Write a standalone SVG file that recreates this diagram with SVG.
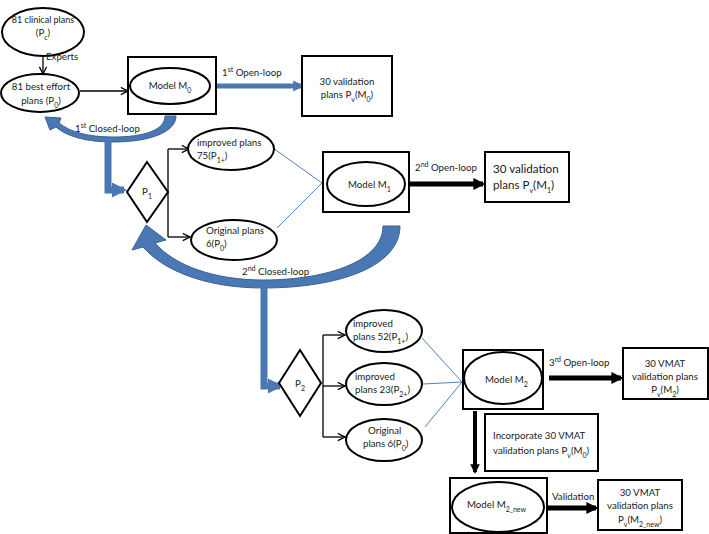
<svg xmlns="http://www.w3.org/2000/svg" width="709" height="534" viewBox="0 0 709 534">
<defs>
<style>
text{font-family:Lato,"Liberation Sans",sans-serif;font-size:9.7px;fill:#1a1a1a}
.c{text-anchor:middle}
.big{font-size:11.6px}
.sh{fill:#fff;stroke:#000;stroke-width:2}
.thin{fill:none;stroke:#000;stroke-width:1.3}
.bl{fill:none;stroke:#4f81bd;stroke-width:1}
.band{fill:#4a78b5;stroke:#3a6094;stroke-width:1}
.sub{font-size:7px;baseline-shift:sub}
.sup{font-size:7px;baseline-shift:super}
</style>
<marker id="open" viewBox="0 0 10 10" refX="9" refY="5" markerWidth="9" markerHeight="9" markerUnits="userSpaceOnUse" orient="auto">
<path d="M1,1 L9,5 L1,9" fill="none" stroke="#000" stroke-width="1.4"/>
</marker>
<marker id="blk" viewBox="0 0 10 10" refX="8" refY="5" markerWidth="2.4" markerHeight="2.4" orient="auto">
<path d="M0,0 L10,5 L0,10 Z" fill="#000"/>
</marker>
<marker id="blu" viewBox="0 0 10 10" refX="8" refY="5" markerWidth="2.2" markerHeight="2.4" orient="auto">
<path d="M0,0 L10,5 L0,10 Z" fill="#4a78b5"/>
</marker>
</defs>

<g id="connectors">
<line class="thin" x1="43" y1="57" x2="43" y2="74" marker-end="url(#open)"/>
<line class="thin" x1="80" y1="91" x2="128" y2="91" marker-end="url(#open)"/>
<line x1="217" y1="86" x2="302" y2="86" stroke="#4a78b5" stroke-width="5" marker-end="url(#blu)"/>
<path class="band" d="M165,116 L176,116 C176,132 150,142 113,142 C86,142 66,136 56,127 L50,130 L45,117 L61,118 L59,123 C70,132 88,137 113,137 C145,137 165,130 165,116 Z"/>
<path d="M108,141 L108,190 L124,190" fill="none" stroke="#4a78b5" stroke-width="7" marker-end="url(#blu)"/>
<polyline class="thin" points="168,149 168,237"/>
<line class="thin" x1="168" y1="149" x2="189" y2="149" marker-end="url(#open)"/>
<line class="thin" x1="168" y1="237" x2="190" y2="237" marker-end="url(#open)"/>
<line class="bl" x1="273" y1="148" x2="322" y2="183"/>
<line class="bl" x1="277" y1="228" x2="322" y2="183"/>
<line x1="409" y1="184" x2="483" y2="184" stroke="#000" stroke-width="5" marker-end="url(#blk)"/>
<path class="band" d="M383,226 L400,226 C400,266 340,288 263,288 C205,288 163,270 143,247 L132,250 L146,225 L166,240 L155,243 C175,266 215,280 263,280 C330,280 383,260 383,226 Z"/>
<path d="M264,284 L264,386 L280,386" fill="none" stroke="#4a78b5" stroke-width="7" marker-end="url(#blu)"/>
<polyline class="thin" points="323,335 323,437"/>
<line class="thin" x1="323" y1="335" x2="345" y2="335" marker-end="url(#open)"/>
<line class="thin" x1="323" y1="386" x2="345" y2="386" marker-end="url(#open)"/>
<line class="thin" x1="323" y1="437" x2="345" y2="437" marker-end="url(#open)"/>
<line class="bl" x1="422" y1="338" x2="462" y2="382"/>
<line class="bl" x1="423" y1="384" x2="462" y2="382"/>
<line class="bl" x1="425" y1="427" x2="462" y2="382"/>
<line x1="549" y1="378" x2="621" y2="378" stroke="#000" stroke-width="5" marker-end="url(#blk)"/>
<line x1="475" y1="411" x2="475" y2="472" stroke="#000" stroke-width="4" marker-end="url(#blk)"/>
<line x1="547" y1="508" x2="596" y2="508" stroke="#000" stroke-width="5" marker-end="url(#blk)"/>
</g>

<g id="clinical">
<ellipse class="sh" cx="43" cy="32" rx="41" ry="24"/>
<text class="c" x="43" y="23" style="font-size:9px">81 clinical plans</text>
<text class="c" x="43" y="36">(P<tspan class="sub">c</tspan>)</text>
</g>
<text x="46" y="60">Experts</text>
<g id="besteffort">
<ellipse class="sh" cx="40" cy="93" rx="39" ry="19"/>
<text class="c" x="41" y="90">81 best effort</text>
<text class="c" x="41" y="104">plans (P<tspan class="sub">0</tspan>)</text>
</g>
<g id="m0">
<rect class="sh" x="128" y="57" width="88" height="57"/>
<ellipse class="sh" cx="170" cy="86" rx="40" ry="18"/>
<text class="c" x="170" y="89">Model M<tspan class="sub">0</tspan></text>
</g>
<text x="222" y="76">1<tspan class="sup">st</tspan> Open-loop</text>
<g id="val0">
<rect class="sh" x="302" y="56" width="90" height="60"/>
<text class="c" x="347" y="85">30 validation</text>
<text class="c" x="347" y="98">plans P<tspan class="sub">v</tspan>(M<tspan class="sub">0</tspan>)</text>
</g>
<text x="75" y="132">1<tspan class="sup">st</tspan> Closed-loop</text>
<g id="p1">
<polygon class="sh" points="147,162 168,192 147,222 127,192"/>
<text class="c" x="147" y="195">P<tspan class="sub">1</tspan></text>
</g>
<g id="imp75">
<ellipse class="sh" cx="231" cy="149" rx="43" ry="21"/>
<text x="197" y="146">improved plans</text>
<text x="197" y="159">75(P<tspan class="sub">1+</tspan>)</text>
</g>
<g id="orig6a">
<ellipse class="sh" cx="234" cy="240" rx="43" ry="20"/>
<text x="206" y="234">Original plans</text>
<text x="206" y="247">6(P<tspan class="sub">0</tspan>)</text>
</g>
<g id="m1">
<rect class="sh" x="323" y="152" width="86" height="60"/>
<ellipse class="sh" cx="366" cy="184" rx="39" ry="22"/>
<text x="348" y="188">Model M<tspan class="sub">1</tspan></text>
</g>
<text x="415" y="171">2<tspan class="sup">nd</tspan> Open-loop</text>
<g id="val1">
<rect class="sh" x="485" y="152" width="84" height="50"/>
<text class="big" x="493" y="173">30 validation</text>
<text class="big" x="493" y="189">plans P<tspan class="sub">v</tspan>(M<tspan class="sub">1</tspan>)</text>
</g>
<text x="242" y="275">2<tspan class="sup">nd</tspan> Closed-loop</text>
<g id="p2">
<polygon class="sh" points="300,350 321,383 300,416 279,383"/>
<text class="c" x="300" y="387">P<tspan class="sub">2</tspan></text>
</g>
<g id="imp52">
<ellipse class="sh" cx="384" cy="331" rx="38" ry="21"/>
<text x="353" y="327">improved</text>
<text x="353" y="340">plans 52(P<tspan class="sub">1+</tspan>)</text>
</g>
<g id="imp23">
<ellipse class="sh" cx="384" cy="384" rx="38" ry="21"/>
<text x="355" y="380">improved</text>
<text x="355" y="393">plans 23(P<tspan class="sub">2+</tspan>)</text>
</g>
<g id="orig6b">
<ellipse class="sh" cx="384" cy="440" rx="38" ry="21"/>
<text x="368" y="434">Original</text>
<text x="363" y="447">plans 6(P<tspan class="sub">0</tspan>)</text>
</g>
<g id="m2">
<rect class="sh" x="463" y="350" width="80" height="59"/>
<ellipse class="sh" cx="503" cy="378" rx="39" ry="26"/>
<text x="485" y="383">Model M<tspan class="sub">2</tspan></text>
</g>
<text x="549" y="366">3<tspan class="sup">rd</tspan>  Open-loop</text>
<g id="val2">
<rect class="sh" x="623" y="348" width="85" height="51"/>
<text class="c" x="665" y="367">30 VMAT</text>
<text class="c" x="665" y="380">validation plans</text>
<text class="c" x="665" y="393">P<tspan class="sub">v</tspan>(M<tspan class="sub">2</tspan>)</text>
</g>
<g id="incorp">
<rect class="sh" x="485" y="414" width="113" height="57"/>
<text x="493" y="439">Incorporate 30 VMAT</text>
<text x="493" y="454">validation plans P<tspan class="sub">v</tspan>(M<tspan class="sub">0</tspan>)</text>
</g>
<g id="m2new">
<rect class="sh" x="450" y="478" width="97" height="55"/>
<ellipse class="sh" cx="498" cy="507" rx="46" ry="25"/>
<text x="467" y="508">Model M<tspan class="sub">2_new</tspan></text>
</g>
<text x="552" y="500">Validation</text>
<g id="valnew">
<rect class="sh" x="598" y="480" width="84" height="50"/>
<text class="c" x="640" y="496">30 VMAT</text>
<text class="c" x="640" y="509">validation plans</text>
<text class="c" x="640" y="523">P<tspan class="sub">v</tspan>(M<tspan class="sub">2_new</tspan>)</text>
</g>
</svg>
